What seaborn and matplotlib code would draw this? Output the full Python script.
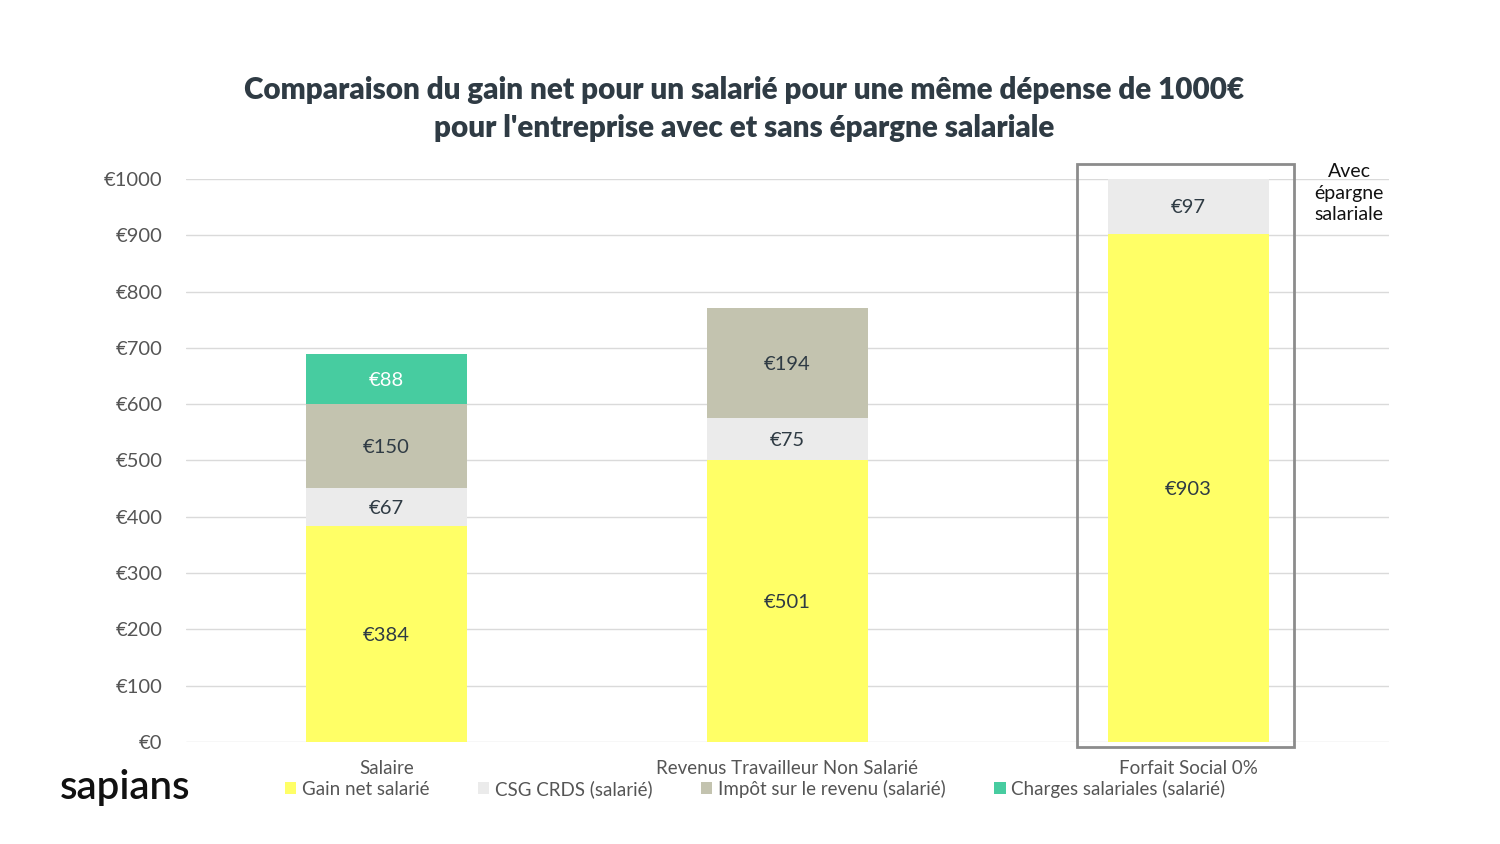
import matplotlib
matplotlib.use("Agg")
import matplotlib.pyplot as plt
from matplotlib.patches import Rectangle, Patch
import numpy as np
import pandas as pd
import seaborn as sns

categories = ["Salaire", "Revenus Travailleur Non Salarié", "Forfait Social 0%"]
gain_net = [384, 501, 903]
csg_crds = [67, 75, 97]
impot = [150, 194, 0]
charges = [88, 0, 0]
series_names = ["Gain net salarié", "CSG CRDS (salarié)", "Impôt sur le revenu (salarié)", "Charges salariales (salarié)"]
yticks = [0, 100, 200, 300, 400, 500, 600, 700, 800, 900, 1000]

colors = ["#FFFF66", "#EBEBEB", "#C3C3AF", "#47CCA0"]
text_dark = "#2F3B44"

sns.set_theme(style="white")
plt.rcParams["font.family"] = ["Lato", "DejaVu Sans"]

fig = plt.figure(figsize=(15, 8.44), dpi=100)
ax = fig.add_axes([0.124, 0.1209, 0.802, 0.6671])

series = [gain_net, csg_crds, impot, charges]
cum = np.cumsum(np.array(series, dtype=float), axis=0)
df = pd.DataFrame({"cat": categories})

# draw cumulative totals from top layer down
for i in range(len(series) - 1, -1, -1):
    df["v"] = cum[i]
    sns.barplot(data=df, x="cat", y="v", color=colors[i], saturation=1,
                width=0.4, ax=ax, order=categories, zorder=2, linewidth=0,
                edgecolor="none")

ax.set_xlim(-0.5, 2.5)
ax.set_ylim(0, 1000)
ax.set_yticks(yticks)
ax.set_yticklabels([f"€{v}" for v in yticks], color="#555555", fontsize=14.5)
ax.set_xlabel("")
ax.set_ylabel("")
ax.tick_params(axis="x", length=0, pad=13, labelsize=13.5, labelcolor="#555555")
ax.tick_params(axis="y", length=0, pad=17)
ax.grid(axis="y", color="#DADADA", linewidth=1, zorder=0)
ax.set_axisbelow(True)
for s in ax.spines.values():
    s.set_visible(False)

# value labels
for i, vals in enumerate(series):
    for j, v in enumerate(vals):
        if v <= 0:
            continue
        base = cum[i][j] - v
        col = "white" if i == 3 else text_dark
        ax.text(j, base + v / 2, f"€{v}", ha="center", va="center_baseline",
                fontsize=14.5, color=col, zorder=5)

# highlight box
box = Rectangle((1.722, -9), 0.541, 1036, fill=False, edgecolor="#8C8C8C",
                linewidth=2, clip_on=False, zorder=6)
ax.add_patch(box)

fig.text(1349 / 1500, 1 - 193 / 844, "Avec\népargne\nsalariale", ha="center",
         va="center", fontsize=14, color="#111111", linespacing=1.3)

fig.text(744 / 1500, 1 - 109 / 844,
         "Comparaison du gain net pour un salarié pour une même dépense de 1000€\npour l'entreprise avec et sans épargne salariale",
         ha="center", va="center", fontsize=21.3, fontweight="heavy", color=text_dark,
         linespacing=1.45)

handles = [Patch(facecolor=c, edgecolor="none") for c in colors]
fig.legend(handles, series_names, loc="center", bbox_to_anchor=(755 / 1500, 1 - 789 / 844),
           ncol=4, frameon=False, fontsize=13.5, handlelength=0.6, handleheight=0.6,
           handletextpad=0.3, columnspacing=2.6, labelcolor="#555555")

fig.text(60 / 1500, 1 - 788 / 844, "sapians", ha="left", va="center", fontsize=29,
         color="#111111", fontweight="semibold")

fig.savefig("out.png", dpi=100, facecolor="white")
